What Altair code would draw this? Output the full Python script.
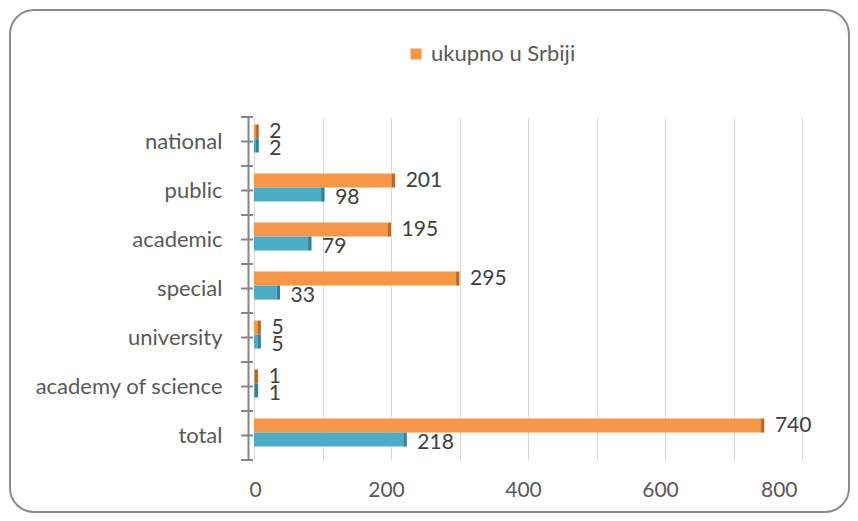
import altair as alt
import pandas as pd

categories = ["national", "public", "academic", "special", "university", "academy of science", "total"]
srbija = [2, 201, 195, 295, 5, 1, 740]
druga = [2, 98, 79, 33, 5, 1, 218]
series_names = ["ukupno u Srbiji", "serija 2"]
colors = ["#F79646", "#4BACC6"]
dark_colors = ["#B86A2A", "#2F8299"]
grid_values = list(range(0, 801, 50))

rows = []
for c, a, b in zip(categories, srbija, druga):
    rows.append({"cat": c, "series": series_names[0], "v": a})
    rows.append({"cat": c, "series": series_names[1], "v": b})
df = pd.DataFrame(rows)
cat_df = pd.DataFrame({"cat": categories})

FONT = "Lato"
AXIS_GRAY = "#868686"

y_scale = alt.Scale(domain=categories, paddingInner=0, paddingOuter=0)
y_enc = alt.Y("cat:N", sort=categories, title=None, scale=y_scale,
              axis=alt.Axis(domainColor=AXIS_GRAY, domainWidth=2, offset=6,
                            ticks=False, tickSize=0, labelPadding=26, labelFontSize=22,
                            labelLimit=400, labelColor="#595959", labelFont=FONT))
yoff = alt.YOffset("series:N", sort=series_names,
                   scale=alt.Scale(paddingInner=0, paddingOuter=0.75, align=0.36))
x_enc = alt.X("v:Q", title=None,
              scale=alt.Scale(domain=[0, 800], nice=False),
              axis=alt.Axis(values=grid_values,
                            labelExpr="datum.value % 200 == 0 ? datum.label : ''",
                            grid=True, gridColor="#D9D9D9", domain=False, ticks=False,
                            labelPadding=19, labelOffset=-5, labelFontSize=21,
                            labelColor="#595959", labelFont=FONT))

base = alt.Chart(df)

bars = base.mark_bar().encode(
    x=x_enc, y=y_enc, yOffset=yoff,
    color=alt.Color("series:N", sort=series_names,
                    scale=alt.Scale(domain=series_names, range=colors),
                    legend=alt.Legend(values=[series_names[0]], title=None, orient="none",
                                      legendX=151, legendY=-74, symbolType="square",
                                      symbolSize=121, symbolStrokeWidth=0,
                                      labelFontSize=22, labelColor="#595959",
                                      labelFont=FONT, labelOffset=4)),
)

caps = base.transform_calculate(v2="datum.v + 5").mark_bar().encode(
    x="v:Q", x2="v2:Q", y=alt.Y("cat:N", sort=categories), yOffset=yoff,
    color=alt.Color("series:N", sort=series_names,
                    scale=alt.Scale(domain=series_names, range=dark_colors), legend=None),
)


def value_labels(series, dy):
    return base.transform_filter(alt.datum.series == series).mark_text(
        align="left", baseline="middle", dx=14, dy=dy, fontSize=21,
        color="#404040", font=FONT
    ).encode(
        x="v:Q", y=alt.Y("cat:N", sort=categories), yOffset=yoff, text="v:Q",
    )


labels_a = value_labels(series_names[0], 0)
labels_b = value_labels(series_names[1], 3)

tick_center = alt.Chart(cat_df).mark_rule(color=AXIS_GRAY, strokeWidth=2).encode(
    y=alt.Y("cat:N", sort=categories, bandPosition=0.5),
    x=alt.value(-13), x2=alt.value(-1),
)
tick_top = alt.Chart(cat_df).mark_rule(color=AXIS_GRAY, strokeWidth=2).encode(
    y=alt.Y("cat:N", sort=categories, bandPosition=0),
    x=alt.value(-13), x2=alt.value(-1),
)
tick_bottom = alt.Chart(cat_df.tail(1)).mark_rule(color=AXIS_GRAY, strokeWidth=2).encode(
    y=alt.Y("cat:N", sort=categories, bandPosition=1),
    x=alt.value(-13), x2=alt.value(-1),
)

border = alt.Chart(pd.DataFrame({"a": [0]})).mark_rect(
    fill=None, stroke="#8C8C8C", strokeWidth=2, cornerRadius=24
).encode(x=alt.value(-244), x2=alt.value(595), y=alt.value(-107), y2=alt.value(395))

chart = alt.layer(border, bars, caps, labels_a, labels_b,
                  tick_center, tick_top, tick_bottom).resolve_scale(
    color="independent"
).properties(
    width=548, height=343,
    autosize=alt.AutoSizeParams(type="none"),
    padding={"left": 246, "top": 109, "right": 48, "bottom": 53},
    background="white",
).configure_view(stroke=None)

chart.save("out.html", embed_options={"renderer": "svg", "actions": False})
